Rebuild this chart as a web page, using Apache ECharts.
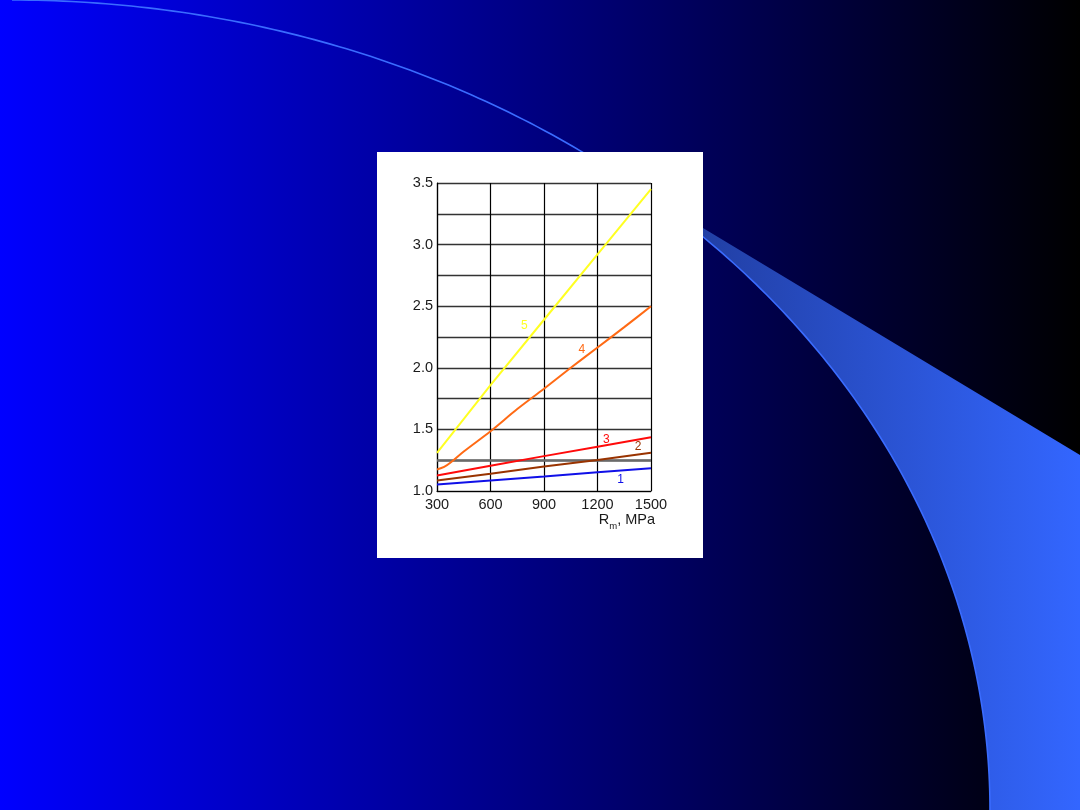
<!DOCTYPE html>
<html>
<head>
<meta charset="utf-8">
<script src="https://cdn.jsdelivr.net/npm/echarts@6/dist/echarts.min.js"></script>
<style>
html,body{margin:0;padding:0;background:#000;}
#chart{width:1080px;height:810px;}
</style>
</head>
<body>
<div id="chart"></div>
<script>
// ---- data ----
var xCommon = [300, 600, 900, 1200, 1500];
var curve1 = [1.053, 1.085, 1.117, 1.152, 1.185];   // blue
var curve2 = [1.085, 1.140, 1.198, 1.252, 1.310];   // brown
var curve3 = [1.125, 1.205, 1.283, 1.360, 1.437];   // red
var curve5 = [1.31, 1.86, 2.39, 2.92, 3.45];        // yellow
var xCurve4 = [300, 340, 380, 450, 600, 750, 900, 1050, 1200, 1350, 1500];
var curve4 = [1.175, 1.195, 1.235, 1.32, 1.485, 1.665, 1.83, 2.0, 2.165, 2.33, 2.50]; // orange
var curveNames = ['1', '2', '3', '4', '5'];
var labelX = [1330, 1427, 1250, 1112, 790];
var labelY = [1.09, 1.36, 1.42, 2.15, 2.34];
var xTicks = [300, 600, 900, 1200, 1500];
var yTicks = [1.0, 1.5, 2.0, 2.5, 3.0, 3.5];
var colors = ['#1010e8', '#993300', '#ff0a0a', '#ff6a14', '#ffff22'];

function pairs(xs, ys){ return xs.map(function(x,i){ return [x, ys[i]]; }); }

// ---- background decoration (ellipse arc + band) ----
var cx = 12, cy = 810, rx = 978, ry = 810;
function ellY(x){ var u = (x - cx) / rx; return cy - ry * Math.sqrt(Math.max(0, 1 - u*u)); }
function lineY(x){ return 228 + 0.602 * (x - 703); }
var arc = [];
for (var t = 0; t <= 90; t += 0.5) {
  var a = t * Math.PI / 180;
  arc.push([cx + rx * Math.sin(a), cy - ry * Math.cos(a)]);
}
var xi = 600;
for (var x = 600; x < 800; x += 0.25) { if (ellY(x) >= lineY(x)) { xi = x; break; } }
var band = [];
arc.forEach(function(p){ if (p[0] >= xi) band.push(p); });
band.push([1080, 810]);
band.push([1080, lineY(1080)]);
band.push([xi, lineY(xi)]);

var chart = echarts.init(document.getElementById('chart'));

var seriesData = [
  pairs(xCommon, curve1),
  pairs(xCommon, curve2),
  pairs(xCommon, curve3),
  pairs(xCurve4, curve4),
  pairs(xCommon, curve5)
];

var FONT = 'Liberation Sans, Arial, sans-serif';

var series = seriesData.map(function(d, i){
  return {
    name: curveNames[i],
    type: 'line',
    data: d,
    showSymbol: false,
    smooth: i === 3 ? 0.3 : false,
    lineStyle: { color: colors[i], width: 2 },
    z: 5,
    markPoint: {
      symbol: 'circle', symbolSize: 0, silent: true,
      label: { show: true, formatter: curveNames[i], color: colors[i], fontSize: 12,
               fontFamily: FONT, position: 'inside' },
      data: [{ coord: [labelX[i], labelY[i]] }]
    }
  };
});
series[0].markLine = {
  silent: true, symbol: 'none', label: { show: false },
  lineStyle: { color: '#6a6a6a', width: 2.5, type: 'solid' },
  data: [{ yAxis: 1.25 }]
};

chart.setOption({
  animation: false,
  backgroundColor: {
    type: 'linear', x: 0, y: 0, x2: 1, y2: 0,
    colorStops: [{ offset: 0, color: '#0000ff' }, { offset: 1, color: '#000000' }]
  },
  graphic: [
    { type: 'polygon', z: -20, silent: true, shape: { points: band },
      style: { fill: { type: 'linear', x: xi, y: 0, x2: 1080, y2: 0, global: true,
        colorStops: [{ offset: 0, color: '#1f3a98' }, { offset: 1, color: '#3366ff' }] } } },
    { type: 'polyline', z: -19, silent: true, shape: { points: arc },
      style: { stroke: '#3a6cff', lineWidth: 1.6, fill: null } },
    { type: 'rect', z: -18, silent: true, shape: { x: 377, y: 152, width: 326, height: 406 },
      style: { fill: '#ffffff' } },
    { type: 'text', z: 10, silent: true, x: 655, y: 512,
      style: {
        text: '{r|R}{s|m}{r|, MPa}', align: 'right', verticalAlign: 'top',
        rich: {
          r: { fontSize: 14.5, fill: '#1a1a1a', fontFamily: FONT, verticalAlign: 'bottom' },
          s: { fontSize: 9.5, fill: '#1a1a1a', fontFamily: FONT, padding: [0,0,-4,0], verticalAlign: 'bottom' }
        }
      } }
  ],
  grid: { left: 437, top: 183, width: 214, height: 308, containLabel: false },
  xAxis: {
    type: 'value', min: 300, max: 1500, interval: 300,
    axisLine: { show: true, lineStyle: { color: '#000', width: 1.2 } },
    axisTick: { show: false },
    splitLine: { show: true, lineStyle: { color: '#000', width: 1.2 } },
    axisLabel: { color: '#1a1a1a', fontSize: 14.5, margin: 6, fontFamily: FONT,
                 formatter: function(v){ return xTicks.indexOf(v) >= 0 ? String(v) : ''; } }
  },
  yAxis: {
    type: 'value', min: 1.0, max: 3.5, interval: 0.25,
    axisLine: { show: true, lineStyle: { color: '#000', width: 1.2 } },
    axisTick: { show: false },
    splitLine: { show: true, lineStyle: { color: '#333', width: 1.4 } },
    axisLabel: { color: '#1a1a1a', fontSize: 14.5, margin: 4, fontFamily: FONT,
                 formatter: function(v){
                   for (var k = 0; k < yTicks.length; k++) if (Math.abs(yTicks[k] - v) < 1e-6) return v.toFixed(1);
                   return '';
                 } }
  },
  series: series
});
</script>
</body>
</html>
